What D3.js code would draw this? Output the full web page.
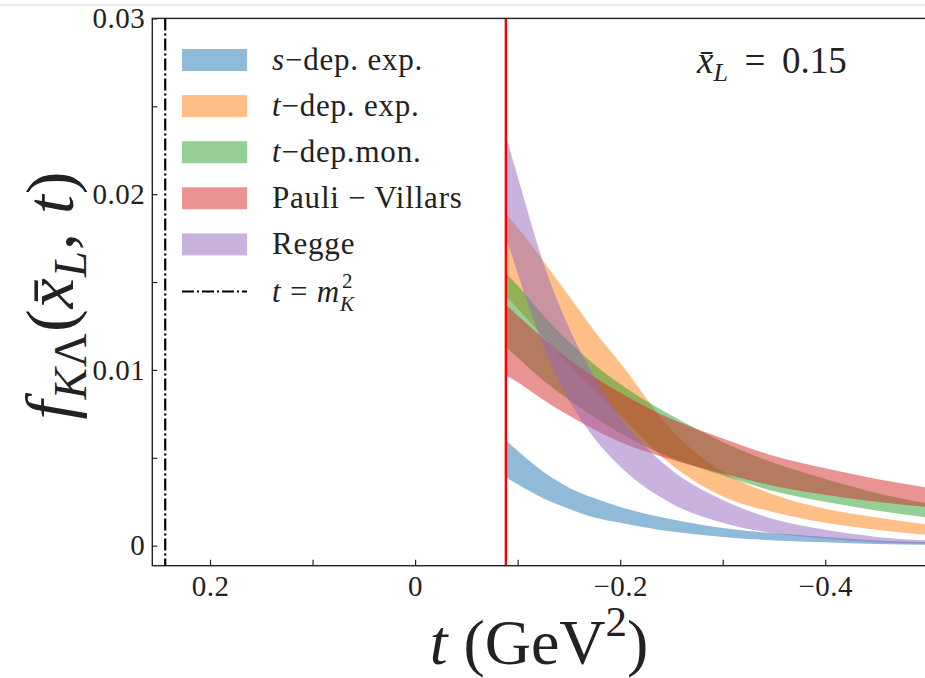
<!DOCTYPE html>
<html>
<head>
<meta charset="utf-8">
<script src="https://cdn.jsdelivr.net/npm/d3@7"></script>
<style>
body { margin: 0; background: #fff; }
text { font-family: "Liberation Serif", "DejaVu Serif", serif; fill: #222; }
.axis path { display: none; }
.axis line { stroke: #222; stroke-width: 1.2; }
.spine { fill: none; stroke: #222; stroke-width: 1.4; }
</style>
</head>
<body>
<svg id="chart" width="925" height="678"></svg>
<script>
// t values (GeV^2), from t_min at the red line outwards
var tValues = [-0.0885, -0.1, -0.125, -0.15, -0.175, -0.2, -0.25, -0.3, -0.35, -0.4, -0.45, -0.5];

// band edges
var sDepUpper = [0.0060, 0.0054, 0.0042, 0.0033, 0.0027, 0.0022, 0.0015, 0.0010, 0.0007, 0.0005, 0.0003, 0.0002];
var sDepLower = [0.0039, 0.0035, 0.0027, 0.0021, 0.0016, 0.0013, 0.0008, 0.0005, 0.0003, 0.0002, 0.0001, 0.00005];
var tExpUpper = [0.0189, 0.0181, 0.0162, 0.0142, 0.0122, 0.0104, 0.0066, 0.0042, 0.0029, 0.0021, 0.0016, 0.0012];
var tExpLower = [0.0142, 0.0135, 0.0119, 0.0103, 0.0088, 0.0074, 0.0046, 0.0028, 0.0019, 0.0013, 0.0009, 0.0006];
var tMonUpper = [0.0155, 0.0148, 0.0131, 0.0116, 0.0103, 0.0092, 0.0074, 0.0059, 0.0047, 0.0038, 0.0030, 0.0024];
var tMonLower = [0.0113, 0.0107, 0.0094, 0.0083, 0.0073, 0.0064, 0.0050, 0.0040, 0.0031, 0.0025, 0.0020, 0.0016];
var pvUpper   = [0.0137, 0.0131, 0.0118, 0.0106, 0.0096, 0.0087, 0.0072, 0.0061, 0.0051, 0.0044, 0.0038, 0.0033];
var pvLower   = [0.0097, 0.0093, 0.0083, 0.0074, 0.0066, 0.0059, 0.0049, 0.0041, 0.0034, 0.0029, 0.0025, 0.0022];
var reggeUpper = [0.0233, 0.0210, 0.0161, 0.0124, 0.0096, 0.0073, 0.0043, 0.0026, 0.0015, 0.0009, 0.0005, 0.0003];
var reggeLower = [0.0176, 0.0155, 0.0114, 0.0083, 0.0061, 0.0045, 0.0024, 0.0013, 0.0007, 0.0004, 0.0002, 0.0001];

var seriesNames = ["s-dep. exp.", "t-dep. exp.", "t-dep.mon.", "Pauli - Villars", "Regge"];
var seriesColors = ["#1f77b4", "#ff7f0e", "#2ca02c", "#d62728", "#9467bd"];

var tMin = -0.0885;     // red line
var mK2 = 0.2437;       // t = m_K^2
var xL = "0.15";

var xTicks = [0.2, 0, -0.2, -0.4];
var xMinorTicks = [0.1, -0.1, -0.3];
var yTicks = [0, 0.01, 0.02, 0.03];
var yMinorTicks = [0.005, 0.015, 0.025];

var xDomain = [0.2563, -0.5],
    yDomain = [-0.00114, 0.03];

var svgWidth = 925, svgHeight = 678;
var margin = {top: 18.4, left: 152.3, right: -2.8, bottom: 112.3};
var width = svgWidth - margin.left - margin.right,
    height = svgHeight - margin.top - margin.bottom;

var serif = "'Liberation Serif', 'DejaVu Serif', serif";
var svg = d3.select("#chart");

// faint frame line at the very top of the screenshot
svg.append("line").attr("x1", 0).attr("x2", svgWidth).attr("y1", 5).attr("y2", 5)
    .attr("stroke", "#e6e6e6").attr("stroke-width", 1.5);

var xScale = d3.scaleLinear().domain(xDomain).range([0, width]);
var yScale = d3.scaleLinear().domain(yDomain).range([height, 0]);

var g = svg.append("g").attr("transform", "translate(" + margin.left + "," + margin.top + ")");

g.append("clipPath").attr("id", "clip")
    .append("rect").attr("x", 0).attr("y", 0).attr("width", width).attr("height", height);

var body = g.append("g").attr("clip-path", "url(#clip)");

var bands = [
    {upper: sDepUpper, lower: sDepLower},
    {upper: tExpUpper, lower: tExpLower},
    {upper: tMonUpper, lower: tMonLower},
    {upper: pvUpper, lower: pvLower},
    {upper: reggeUpper, lower: reggeLower}
];

var area = d3.area()
    .x(function(d) { return xScale(d.t); })
    .y0(function(d) { return yScale(d.lo); })
    .y1(function(d) { return yScale(d.hi); })
    .curve(d3.curveMonotoneX);

bands.forEach(function(b, i) {
    var pts = tValues.map(function(t, j) { return {t: t, lo: b.lower[j], hi: b.upper[j]}; });
    body.append("path")
        .datum(pts)
        .attr("d", area)
        .attr("fill", seriesColors[i])
        .attr("fill-opacity", 0.5);
});

// t = m_K^2 line
body.append("line")
    .attr("x1", xScale(mK2)).attr("x2", xScale(mK2))
    .attr("y1", 0).attr("y2", height)
    .attr("stroke", "#000").attr("stroke-width", 2.2)
    .attr("stroke-dasharray", "12,3,2,3");

// t_min line
body.append("line")
    .attr("x1", xScale(tMin)).attr("x2", xScale(tMin))
    .attr("y1", 0).attr("y2", height)
    .attr("stroke", "#ff0000").attr("stroke-width", 2.4);

// axes, ticks pointing inwards
var fmt = function(d) { return d === 0 ? "0" : d3.format("")(d).replace("-", "\u2212"); };

var xAxis = d3.axisBottom(xScale).tickValues(xTicks).tickFormat(fmt)
    .tickSize(-6).tickSizeOuter(0).tickPadding(10);
var xMinor = d3.axisBottom(xScale).tickValues(xMinorTicks).tickFormat("")
    .tickSize(-6).tickSizeOuter(0);
var yAxis = d3.axisLeft(yScale).tickValues(yTicks).tickFormat(fmt)
    .tickSize(-5).tickSizeOuter(0).tickPadding(7);
var yMinor = d3.axisLeft(yScale).tickValues(yMinorTicks).tickFormat("")
    .tickSize(-5).tickSizeOuter(0);

g.append("g").attr("class", "axis").attr("transform", "translate(0," + height + ")").call(xAxis);
g.append("g").attr("class", "axis").attr("transform", "translate(0," + height + ")").call(xMinor);
g.append("g").attr("class", "axis").call(yAxis);
g.append("g").attr("class", "axis").call(yMinor);

g.selectAll(".axis text")
    .attr("fill", "#2a2a2a")
    .style("font-family", serif)
    .style("font-size", "29px")
    .style("letter-spacing", "0.5px");

g.append("rect").attr("class", "spine")
    .attr("x", 0).attr("y", 0).attr("width", width).attr("height", height);

// legend (no frame)
var legX = 182, legY = 60, legStep = 46.1;
var legend = svg.append("g");
var labelParts = [
    [["s", true], ["\u2212dep. exp.", false]],
    [["t", true], ["\u2212dep. exp.", false]],
    [["t", true], ["\u2212dep.mon.", false]],
    [["Pauli \u2212 Villars", false]],
    [["Regge", false]]
];
seriesNames.forEach(function(name, i) {
    var cy = legY + i * legStep;
    legend.append("rect")
        .attr("x", legX).attr("y", cy - 11).attr("width", 65).attr("height", 22)
        .attr("fill", seriesColors[i]).attr("fill-opacity", 0.5);
    var txt = legend.append("text").attr("x", legX + 90).attr("y", cy + 10)
        .style("font-size", "31px").style("letter-spacing", "0.8px");
    labelParts[i].forEach(function(p) {
        txt.append("tspan").text(p[0]).style("font-style", p[1] ? "italic" : "normal");
    });
});
var cy6 = legY + 5 * legStep + 1;
legend.append("line")
    .attr("x1", legX).attr("x2", legX + 65).attr("y1", cy6).attr("y2", cy6)
    .attr("stroke", "#000").attr("stroke-width", 2)
    .attr("stroke-dasharray", "12,3,2,3");
var t6 = legend.append("text").attr("x", legX + 90).attr("y", cy6 + 10)
    .style("font-size", "31px").style("letter-spacing", "0.8px");
t6.append("tspan").text("t").style("font-style", "italic");
t6.append("tspan").text(" = ");
t6.append("tspan").text("m").style("font-style", "italic");
var t6len = t6.node().getComputedTextLength();
legend.append("text").attr("x", legX + 92 + t6len).attr("y", cy6 - 4).style("font-size", "21px").text("2");
legend.append("text").attr("x", legX + 90 + t6len).attr("y", cy6 + 19).style("font-size", "21px")
    .style("font-style", "italic").text("K");

// x_L annotation
var ann = svg.append("text").attr("x", 697).attr("y", 73).style("font-size", "37px");
ann.append("tspan").text("x\u0304").style("font-style", "italic");
ann.append("tspan").text("L").style("font-style", "italic").style("font-size", "26px").attr("dy", 8);
ann.append("tspan").text(" \u2009=\u2009 " + xL).attr("dy", -8);

// axis titles
var xt = svg.append("text").attr("x", 539).attr("y", 664)
    .attr("text-anchor", "middle").style("font-size", "64px");
xt.append("tspan").text("t").style("font-style", "italic");
xt.append("tspan").text(" (GeV");
xt.append("tspan").text("2").style("font-size", "43px").attr("dy", -28);
xt.append("tspan").text(")").attr("dy", 28);

var yt = svg.append("text")
    .attr("transform", "translate(73,295) rotate(-90)")
    .attr("text-anchor", "middle").style("font-size", "68px").style("letter-spacing", "1px");
yt.append("tspan").text("f").style("font-style", "italic");
yt.append("tspan").text("K").style("font-style", "italic").style("font-size", "47px").attr("dy", 13);
yt.append("tspan").text("\u039b").style("font-size", "47px");
yt.append("tspan").text("(").attr("dy", -13);
yt.append("tspan").text("x\u0304").style("font-style", "italic");
yt.append("tspan").text("L").style("font-style", "italic").style("font-size", "47px").attr("dy", 13);
yt.append("tspan").text(", ").attr("dy", -13);
yt.append("tspan").text("t").style("font-style", "italic");
yt.append("tspan").text(")");
</script>
</body>
</html>
